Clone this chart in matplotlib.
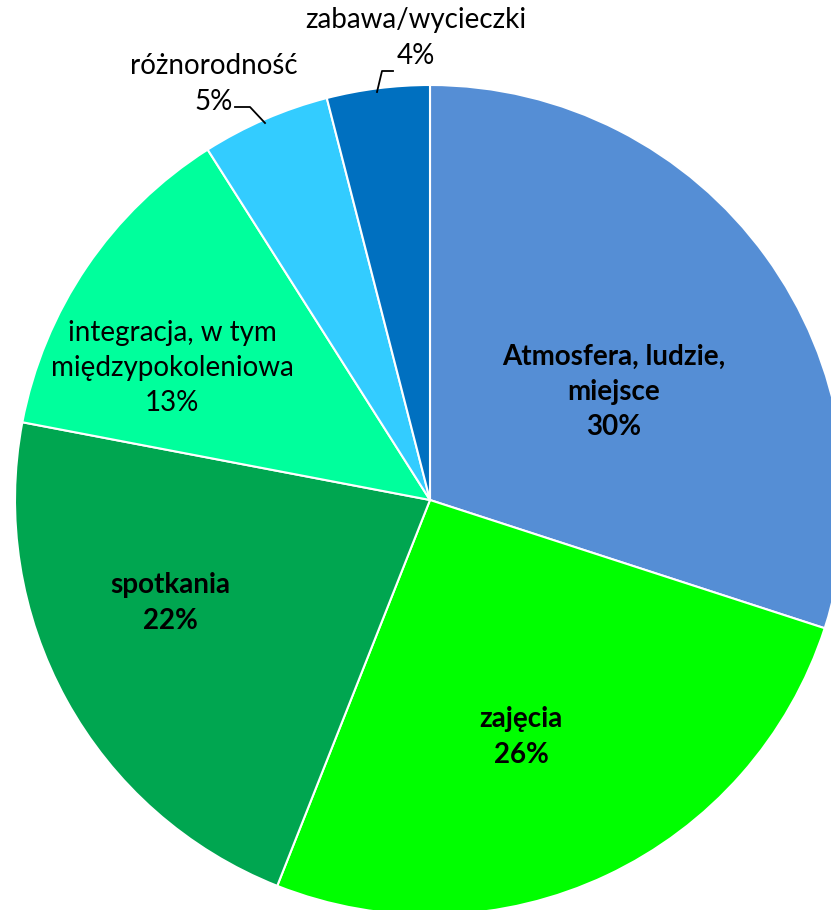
import matplotlib.pyplot as plt

labels = ["Atmosfera, ludzie,\nmiejsce", "zajęcia", "spotkania",
          "integracja, w tym\nmiędzypokoleniowa", "różnorodność", "zabawa/wycieczki"]
values = [30, 26, 22, 13, 5, 4]
colors = ["#558ED5", "#00FF00", "#00A650", "#00FF9C", "#33CCFF", "#0070C0"]

W, H = 831, 910
cx, cy, r = 430, 500, 415

fig = plt.figure(figsize=(W / 100, H / 100), dpi=100)
ax = fig.add_axes([(cx - r) / W, (H - cy - r) / H, 2 * r / W, 2 * r / H])

ax.pie(values, colors=colors, startangle=90, counterclock=False, radius=1,
       wedgeprops=dict(edgecolor="white", linewidth=1.5))
ax.set_xlim(-1, 1)
ax.set_ylim(-1, 1)
ax.axis("off")


def px(x, y):
    # pixel position -> data coords of the pie axes
    return (x - cx) / r, (cy - y) / r


plt.rcParams['font.family'] = ['Lato', 'DejaVu Sans']
fs = 20

# labels inside the slices
inner = [(0, 614, 392, "bold"), (1, 521, 737, "bold"), (2, 170, 603, "bold"),
         (3, 172, 368, "normal")]
for i, x, y, w in inner:
    ax.text(*px(x, y), f"{labels[i]}\n{values[i]}%", ha="center", va="center",
            fontsize=fs, fontweight=w, linespacing=1.45)

# outside labels with leader lines
ax.text(*px(214, 84), f"{labels[4]}\n{values[4]}%", ha="center", va="center",
        fontsize=fs, linespacing=1.45)
ax.text(*px(416, 38), f"{labels[5]}\n{values[5]}%", ha="center", va="center",
        fontsize=fs, linespacing=1.45)

l1 = [px(235, 107), px(250, 107), px(265, 123)]
l2 = [px(393, 71), px(382, 71), px(377, 92)]
for pts in (l1, l2):
    ax.plot([p[0] for p in pts], [p[1] for p in pts], color="black", lw=1.3,
            clip_on=False)

fig.savefig("out.png", dpi=100)
